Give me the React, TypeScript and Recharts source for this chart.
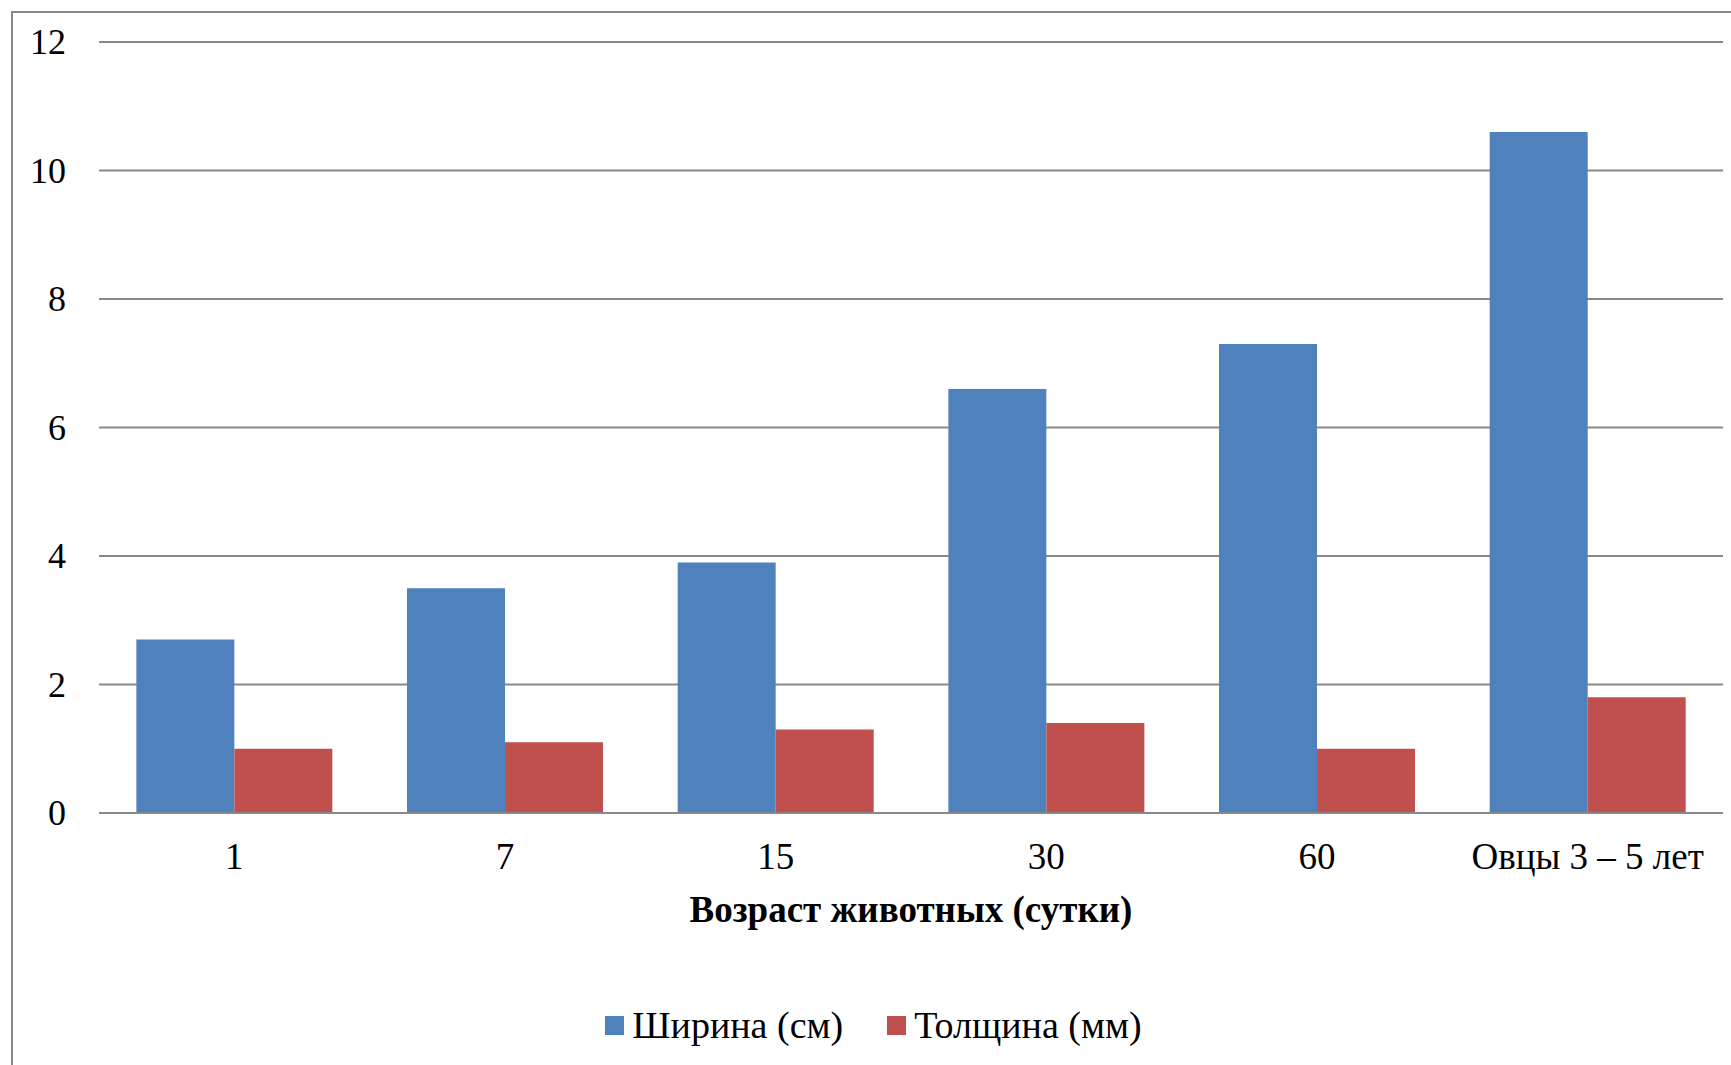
import React from 'react';
import { BarChart, Bar, XAxis, YAxis, CartesianGrid, Legend } from 'recharts';

const categories = ['1', '7', '15', '30', '60', 'Овцы 3 – 5 лет'];
const widthCm = [2.7, 3.5, 3.9, 6.6, 7.3, 10.6];
const thicknessMm = [1.0, 1.1, 1.3, 1.4, 1.0, 1.8];
const yTicks = [0, 2, 4, 6, 8, 10, 12];
const seriesNames = ['Ширина (см)', 'Толщина (мм)'];
const xTitle = 'Возраст животных (сутки)';

const BLUE = '#4F81BD';
const RED = '#C0504D';
const GRID = '#898989';
const FONT = '"Liberation Serif", "Times New Roman", serif';

const data = categories.map((c, i) => ({ cat: c, w: widthCm[i], t: thicknessMm[i] }));

const YTick = (props: any) => {
  const { x, y, payload } = props;
  return (
    <text x={x} y={y} dy={12} textAnchor="end" fontFamily={FONT} fontSize={36} fill="#000">
      {payload.value}
    </text>
  );
};

const XTick = (props: any) => {
  const { x, y, payload } = props;
  return (
    <text x={x} y={y} dy={50} textAnchor="middle" fontFamily={FONT} fontSize={37} fill="#000">
      {payload.value}
    </text>
  );
};

const XTitle = (props: any) => {
  const vb = props.viewBox;
  return (
    <text x={vb.x + vb.width / 2} y={vb.y + 109} textAnchor="middle" fontFamily={FONT} fontSize={37} fontWeight="bold" fill="#000">
      {xTitle}
    </text>
  );
};

const LegendContent = () => (
  <div style={{ display: 'flex', justifyContent: 'center', alignItems: 'center', fontFamily: FONT, fontSize: 38, color: '#000', paddingLeft: 16 }}>
    <span style={{ display: 'inline-block', width: 19, height: 19, background: BLUE, marginRight: 8 }} />
    <span style={{ marginRight: 44 }}>{seriesNames[0]}</span>
    <span style={{ display: 'inline-block', width: 19, height: 19, background: RED, marginRight: 8 }} />
    <span>{seriesNames[1]}</span>
  </div>
);

export default function App() {
  return (
    <div style={{ position: 'absolute', left: 0, top: 0, width: 1731, height: 1065, background: '#fff', overflow: 'hidden' }}>
      <div style={{ position: 'absolute', left: 11, top: 11, width: 1740, height: 1100, borderLeft: `2px solid ${GRID}`, borderTop: `2px solid ${GRID}` }} />
      <div style={{ position: 'absolute', left: 0, top: 0 }}>
        <BarChart width={1731} height={1065} data={data} margin={{ top: 42, right: 8, bottom: 192, left: 0 }} barCategoryGap="13.8%" barGap={0}>
          <CartesianGrid vertical={false} stroke={GRID} strokeWidth={2} />
          <YAxis width={99} domain={[0, 12]} ticks={yTicks} axisLine={false} tickLine={false} tickMargin={27} tick={<YTick />} interval={0} />
          <XAxis dataKey="cat" height={60} axisLine={{ stroke: GRID, strokeWidth: 2 }} tickLine={false} tickMargin={0} tick={<XTick />} interval={0} label={<XTitle />} />
          <Legend layout="horizontal" verticalAlign="middle" align="center" wrapperStyle={{ top: 1003, left: 0, width: 1731 }} content={<LegendContent />} />
          <Bar dataKey="w" name={seriesNames[0]} fill={BLUE} isAnimationActive={false} />
          <Bar dataKey="t" name={seriesNames[1]} fill={RED} isAnimationActive={false} />
        </BarChart>
      </div>
    </div>
  );
}
